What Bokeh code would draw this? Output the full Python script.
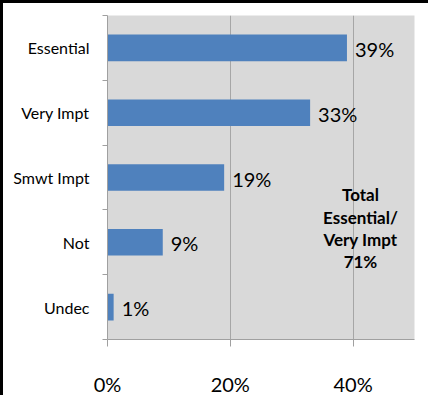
from bokeh.plotting import figure
from bokeh.models import Range1d, FixedTicker, ColumnDataSource
from bokeh.core.properties import value
from bokeh.embed import file_html
from bokeh.resources import INLINE

# ---- data ----
categories = ["Essential", "Very Impt", "Smwt Impt", "Not", "Undec"]
percents = [39, 33, 19, 9, 1]
x_ticks = [0, 20, 40]
x_tick_labels = ["0%", "20%", "40%"]
note_lines = ["Total", "Essential/", "Very Impt", "71%"]

FONT = "Lato"
n = len(categories)
ypos = [n - i for i in range(n)]  # Essential at top
labels = [f"{v}%" for v in percents]

src = ColumnDataSource(dict(y=ypos, v=percents, lab=labels))

p = figure(width=428, height=395, output_backend="svg", toolbar_location=None,
           x_range=Range1d(0, 50), y_range=Range1d(0.5, n + 0.5),
           min_border_left=104, min_border_right=17, min_border_top=12, min_border_bottom=49)
p.styles = {"border-top": "3px solid black", "border-left": "3px solid black"}
p.background_fill_color = "#D9D9D9"
p.border_fill_color = "white"
p.outline_line_color = None

p.hbar(y="y", left=0, right="v", height=0.41, source=src, fill_color="#4F81BD", line_color=None)
p.text(x="v", y="y", text="lab", source=src, x_offset=8, y_offset=1,
       text_baseline="middle", text_align="left", text_font=value(FONT),
       text_font_size="20px", text_color="black")

note_src = ColumnDataSource(dict(
    x=[41.2] * len(note_lines), y=[2.27] * len(note_lines), t=note_lines,
    off=[-30, -7, 15, 37]))
p.text(x="x", y="y", text="t", y_offset="off", source=note_src,
       text_align="center", text_baseline="middle",
       text_font=value(FONT), text_font_style="bold", text_font_size="17px",
       text_color="black")

# x axis
xa = p.xaxis[0]
xa.ticker = FixedTicker(ticks=x_ticks, minor_ticks=[])
xa.major_label_overrides = {t: s for t, s in zip(x_ticks, x_tick_labels)}
xa.major_label_text_font = FONT
xa.major_label_text_font_size = "20px"
xa.major_label_text_color = "black"
xa.major_label_standoff = 25
xa.major_tick_out = 7
xa.major_tick_in = 0
xa.axis_line_color = "#A0A0A0"
xa.major_tick_line_color = "#A0A0A0"

# y axis
ya = p.yaxis[0]
ya.ticker = FixedTicker(ticks=ypos, minor_ticks=[i + 0.5 for i in range(n + 1)])
ya.major_label_overrides = {y: c for y, c in zip(ypos, categories)}
ya.major_label_text_font = FONT
ya.major_label_text_font_size = "16px"
ya.major_label_text_color = "black"
ya.major_label_standoff = 13
ya.major_tick_out = 0
ya.major_tick_in = 0
ya.minor_tick_out = 5
ya.minor_tick_in = 0
ya.axis_line_color = "#A0A0A0"
ya.minor_tick_line_color = "#A0A0A0"

p.xgrid.ticker = FixedTicker(ticks=x_ticks)
p.xgrid.grid_line_color = "#A6A6A6"
p.ygrid.grid_line_color = None

open("out.html", "w").write(file_html(p, INLINE))
